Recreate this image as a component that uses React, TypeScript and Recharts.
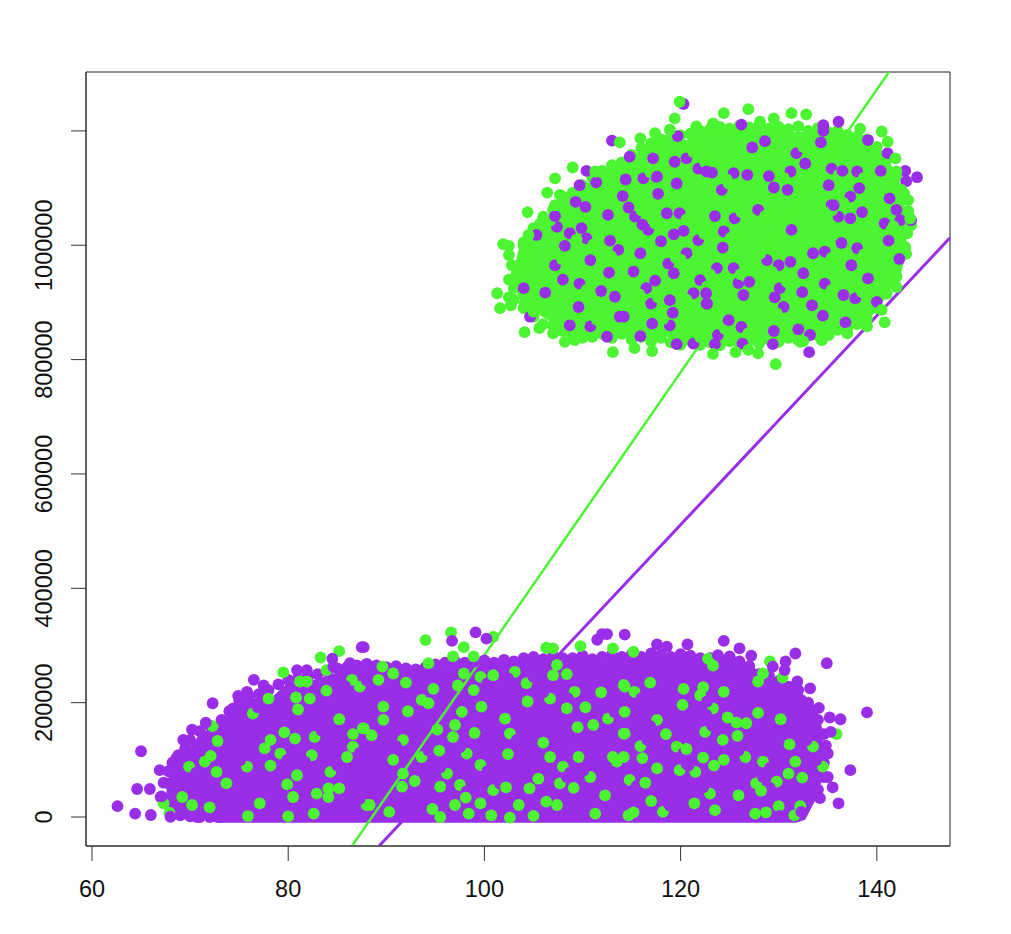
import { ComposedChart, Area, Scatter, XAxis, YAxis, ReferenceLine, ReferenceArea } from "recharts";

const GREEN = "#4CF531";
const PURPLE = "#9A2DE8";

const X_TICKS = [60, 80, 100, 120, 140];
const Y_TICKS = [0, 200000, 400000, 600000, 800000, 1000000, 1200000];
const X_DOMAIN = [59.39, 147.46];
const Y_DOMAIN = [-50700, 1303000];

// the packed part of each cloud is too dense to read dot by dot, so it is an outline: [x, low, high], y in thousands
const upperCloud = [
  [103, 930, 960], [103.6, 905, 997], [105.3, 881, 1032], [107, 864, 1061], [108, 849, 1085], [109.7, 840, 1096],
  [111.4, 846, 1120], [113.1, 846, 1137], [115.2, 840, 1155], [116.5, 837, 1172], [118.6, 840, 1184], [120.6, 829, 1184],
  [122.7, 829, 1201], [125.4, 832, 1204], [128.8, 832, 1201], [132.2, 840, 1198], [135.6, 849, 1198], [137.3, 855, 1192],
  [139, 867, 1184], [140.3, 893, 1172], [141.4, 922, 1143], [142.4, 945, 1108], [143, 992, 1055],
];
const lowerCloud = [
  [67.6, 20, 60], [68.6, 8, 95], [69.65, 4, 115], [71, 0, 145], [72.7, -10, 160], [74, -10, 180], [75.1, -10, 203],
  [78.5, -10, 212], [79.85, -10, 233], [82.6, -10, 240], [86, -10, 258], [88.3, -10, 262], [94.1, -10, 258], [97.5, -10, 268],
  [101.9, -10, 271], [105.3, -10, 277], [109, -10, 274], [113.8, -10, 278], [117.2, -10, 283], [121.6, -10, 277], [124, -10, 274],
  [127.4, -10, 262], [129.1, -10, 244], [131.8, -10, 222], [132.7, -5, 212], [133.9, 35, 190], [134.5, 70, 150],
];

// dots that make the bumpy rim of each cloud, [x, y in thousands]
const upperRim = [
  [104, 1005], [105, 1030], [106, 1050], [107, 1062], [108, 1085], [109, 1092], [110, 1105], [111, 1118], [112, 1130], [113, 1140],
  [114, 1145], [115, 1158], [116, 1170], [117, 1178], [118, 1185], [119, 1188], [120, 1192], [121, 1195], [122, 1200], [123, 1203],
  [124, 1207], [125, 1204], [126, 1209], [127, 1206], [128, 1210], [129, 1204], [130, 1207], [131, 1203], [132, 1208], [133, 1200],
  [134, 1205], [135, 1198], [136, 1200], [137, 1193], [138, 1190], [139, 1185], [140, 1172], [141, 1150], [142, 1120], [142.8, 1090],
  [143.2, 1060], [143.5, 1035], [103, 905], [104, 890], [105, 875], [106, 862], [107, 860], [108, 850], [109, 842], [110, 838],
  [111, 840], [112, 845], [113, 838], [114, 845], [115, 835], [116, 840], [117, 832], [118, 838], [119, 830], [120, 826], [121, 833],
  [122, 826], [123, 830], [124, 825], [125, 832], [126, 826], [127, 833], [128, 828], [129, 835], [130, 831], [131, 838], [132, 834],
  [133, 842], [134, 843], [135, 848], [136, 852], [137, 857], [138, 862], [139, 872], [140, 890], [141, 915], [142, 945], [143, 985],
  [102.5, 940], [102.8, 965], [103, 925],
];
const lowerRim = [
  [67, 35], [67.3, 60], [67.8, 80], [68.2, 95], [68.8, 108], [69.5, 120], [70, 135], [71, 150], [72, 160], [74, 185], [75, 205],
  [76, 212], [77, 215], [78, 222], [79, 232], [80, 240], [81, 242], [82, 245], [83, 250], [84, 255], [85, 260], [86, 262], [87, 265],
  [88, 268], [89, 265], [90, 262], [91, 264], [92, 260], [93, 258], [94, 262], [95, 267], [96, 270], [97, 272], [98, 270], [99, 272],
  [100, 274], [101, 270], [102, 275], [103, 272], [104, 278], [105, 280], [106, 276], [107, 282], [108, 278], [109, 278], [110, 282],
  [111, 276], [112, 280], [113, 284], [114, 280], [115, 284], [116, 280], [117, 286], [118, 284], [119, 280], [120, 285], [121, 282],
  [122, 278], [123, 278], [124, 276], [125, 274], [126, 272], [127, 264], [128, 250], [129, 248], [130, 238], [131, 228], [132, 222],
  [133, 200], [134, 170], [134.6, 145], [134.8, 125], [134.6, 95], [132, 10], [133, 28], [134, 48], [134.6, 70], [68, 8], [69, 3],
  [70, 1], [71, 0], [72, 0], [73, 0],
];

// visible single dots, [x, y in thousands]
const upperPurple = [
  [120.3, 1247], [113, 1183], [119.7, 1191], [110.4, 1130], [109.7, 1105], [111.4, 1110], [114.4, 1115], [119.6, 1108],
  [117.7, 1090], [114.1, 1086], [109.3, 1076], [110.3, 1067], [114.7, 1066], [112.6, 1053], [118.6, 1056], [107.2, 1051],
  [116.1, 1036], [109.9, 1030], [105.3, 1018], [119.3, 1019], [120.3, 1025], [118, 1007], [108.2, 999], [112.8, 1008],
  [115.9, 986], [110.8, 974], [112.7, 952], [119.3, 951], [108, 940], [115.2, 954], [117.4, 938], [104, 925], [106.2, 917],
  [111.9, 920], [113.3, 910], [109.6, 892], [118.9, 904], [119.2, 882], [117.1, 863], [108.7, 860], [113.8, 875], [115.9, 841],
  [119.6, 827], [112.5, 840], [104.65, 875], [117.2, 1152], [114.8, 1155], [119.4, 1146], [122.65, 1129], [122.6, 916],
  [122.65, 898], [117.6, 1120], [126.2, 1211], [136.1, 1216], [134.55, 1210], [134.55, 1200], [127.3, 1171], [128.6, 1182],
  [139.1, 1184], [141.1, 1161], [134.3, 1180], [132.7, 1143], [136.5, 1130], [140.4, 1130], [142.9, 1130], [144.1, 1119],
  [143, 1112], [126.8, 1123], [129, 1121], [123.2, 1127], [129.5, 1101], [130.9, 1097], [138.2, 1100], [135.1, 1105],
  [141.3, 1082], [142, 1062], [138.5, 1058], [137.3, 1047], [143.5, 1044], [135.6, 1070], [123.5, 1051], [131.3, 1027],
  [141.2, 1008], [136.4, 1004], [124.3, 996], [142.3, 976], [133.5, 986], [132.5, 951], [131.2, 971], [137.4, 965],
  [139.1, 942], [126.4, 913], [127, 936], [122.7, 898], [132.4, 918], [129.6, 909], [133.4, 895], [134.5, 877], [136.6, 913],
  [140, 901], [129.5, 850], [129.4, 827], [126.3, 828], [123.5, 827], [133.1, 813], [132, 853], [136.8, 865], [124.9, 869],
];
// purple scraps that show between the green dots, and the green dots lying over them
const upperScraps = [
  [116.2, 1117], [117.5, 1120], [116.7, 1027], [121.8, 1009], [120.6, 986], [118.75, 968], [122, 939], [121.3, 916], [117, 898],
  [114.2, 875], [110.8, 858], [107.4, 1032], [108.7, 1021], [110.4, 1012], [107.2, 965], [109.7, 933], [113.65, 992], [115.35, 1050],
  [119.9, 1056], [120.6, 1152], [121.8, 1134], [116.5, 925], [118.9, 860], [121.3, 828], [124.2, 1097], [125.4, 1126], [127.9, 1062],
  [125.5, 1047], [124.4, 1024], [131.2, 1129], [131.8, 1161], [135.4, 1134], [138, 1129], [137.3, 1085], [135.4, 1070], [136.1, 1050],
  [140.8, 1038], [142.4, 1044], [138, 995], [134.7, 989], [123.7, 960], [125.4, 960], [125.9, 934], [130.1, 925], [130.5, 892],
  [126.2, 857], [123.8, 843], [133.2, 843], [134.7, 933], [137.8, 907], [130, 965], [128.8, 974],
];
const upperCover = [
  [116.9, 1128], [118.2, 1108], [117.4, 1038], [122.4, 1020], [120, 975], [119.5, 978], [122.7, 928], [120.6, 905], [117.7, 909],
  [113.5, 864], [111.5, 869], [106.7, 1043], [109.4, 1010], [111.1, 1001], [107.9, 976], [110.4, 922], [112.9, 981], [116, 1061],
  [120.6, 1045], [121.3, 1163], [122.5, 1145], [115.8, 914], [118.2, 871], [122, 839], [124.9, 1108], [124.7, 1115], [128.6, 1051],
  [126.2, 1058], [125.1, 1013], [130.5, 1118], [132.5, 1172], [136.1, 1123], [138.7, 1118], [136.6, 1074], [136.1, 1081], [135.4, 1061],
  [141.5, 1027], [141.7, 1033], [138.7, 984], [135.4, 978], [123, 949], [126.1, 949], [126.6, 945], [130.8, 936], [129.8, 881],
  [126.9, 846], [124.5, 854], [132.5, 832], [135.4, 922], [138.5, 918], [129.3, 954], [128.1, 985],
];
const upperGreen = [
  [119.9, 1251], [119.4, 1222], [118.9, 1202], [117.4, 1196], [115.9, 1187], [113.8, 1180], [109, 1136], [107.2, 1117],
  [106.4, 1092], [104.4, 1058], [101.9, 1002], [102.5, 999], [102.5, 983], [104, 986], [101.3, 916], [102.5, 909], [101.6, 890],
  [102.7, 895], [104.1, 848], [105.6, 855], [107, 846], [108.2, 831], [109.2, 834], [113.1, 813], [115.3, 820], [117.1, 815],
  [121.6, 1208], [107.7, 1088], [107.2, 1070], [105.7, 1038], [104.5, 1018], [104, 1000], [103.3, 951], [104.1, 965],
  [104.1, 898], [105, 884], [111.3, 1129], [126.9, 1238], [124.4, 1231], [129.5, 1222], [131.3, 1231], [132.8, 1229],
  [128.1, 1216], [123.3, 1213], [138.3, 1204], [140.5, 1199], [141.1, 1181], [141.9, 1152], [142, 1129], [143.2, 1079],
  [142.5, 1097], [143.4, 1047], [143.1, 1021], [142.9, 997], [142, 945], [142, 927], [140.8, 865], [129.7, 792], [123.3, 810],
  [125.6, 813], [126.9, 817], [127.9, 811], [132.2, 831], [134.4, 834], [135.1, 843], [137, 846], [139, 858], [140.5, 887],
];
const lowerGreen = [
  [79.5, 253], [83.3, 279], [85.2, 290], [83.9, 257], [78, 207], [80.8, 209], [83.9, 221], [81, 188], [85.2, 171], [72.3, 159],
  [72.8, 133], [79.6, 148], [80.7, 137], [77.6, 120], [78.2, 90], [72.1, 107], [71.5, 97], [80.9, 73], [79.9, 57], [80.5, 35],
  [84.1, 50], [85.2, 50], [84.1, 35], [77.1, 24], [72, 17], [70.2, 21], [69.2, 35], [67.9, 7.5], [67.3, 24], [75.9, 1.7],
  [87.6, 155], [86.6, 145], [86, 105], [73.7, 59], [82.9, 41], [82.6, 6], [80, 1], [72.7, 79], [88.3, 21], [78.2, 135],
  [82.2, 207], [81.9, 237], [81.2, 237], [94, 309.5], [96.6, 323], [97.9, 297], [100.9, 315], [106.3, 296], [107, 295],
  [109.8, 299], [113.1, 295], [98.9, 281], [96.8, 281], [94.3, 269], [89.6, 263], [89.2, 240], [92, 235], [90.7, 251],
  [94.8, 224], [94.3, 199], [93.6, 205], [92.2, 185], [89.7, 193], [89.7, 170], [87.7, 155], [88.5, 143], [97.3, 230],
  [98.9, 222], [97.9, 251], [100.9, 248], [107.4, 266], [107, 248], [108.4, 250], [104.4, 202], [99.7, 193], [97.7, 184],
  [102.1, 172], [111.9, 218], [110.3, 192], [108.4, 190], [109.5, 157], [111.1, 161], [97, 161], [96.8, 140], [99, 147],
  [95.2, 153], [95.4, 116], [102.4, 110], [106, 130], [106.7, 105], [109.6, 105], [113.1, 105], [113.5, 97], [105.5, 67],
  [104.6, 50], [102.2, 52], [109.1, 51], [112.3, 38], [91.7, 76], [92.9, 63], [91.6, 53], [95.5, 53], [98.1, 34], [99.6, 24],
  [97, 21], [98.4, 6], [100.7, 3], [102.6, -1], [105, 2], [106.3, 27], [107.4, 21], [103.5, 21], [94.7, 14], [95.5, 0],
  [90.3, 9], [111.3, 6], [90.7, 100], [114.7, 3], [114.3, 228], [114.2, 146], [115.2, 289], [122.8, 277], [123.3, 265],
  [129.1, 272], [128.4, 251], [127.9, 237], [130.4, 244], [120.3, 224], [122.3, 227], [116.9, 235], [124.4, 219], [120.2, 196],
  [114.3, 184], [114.2, 231], [127.9, 182], [130.2, 171], [124.8, 174], [125.7, 165], [126.7, 164], [118.5, 145], [125.8, 142],
  [124.3, 135], [131.1, 127], [135.9, 145], [114.2, 105], [116.1, 103], [117.6, 85], [124.4, 100], [123.4, 90], [131, 76],
  [131.7, 97], [132.4, 69], [116.4, 60], [128.2, 46], [125.9, 38], [117, 28], [115.2, 8], [127.6, 6], [128.7, 8], [130, 19],
  [131.6, 3], [132.2, 19], [121.4, 24], [123.5, 12], [122.3, 104], [120.6, 119], [114.3, 146],
];
// green scraps in the lower cloud, and the purple dots lying over them
const lowerScraps = [
  [76.4, 181], [79.2, 111], [82.4, 108], [84.3, 79], [86.6, 123], [75.8, 88], [69.9, 88], [82.7, 140], [86.5, 240], [87.3, 228],
  [91.7, 135], [93.6, 105], [96.2, 76], [97.5, 56], [99.6, 91], [98.2, 111], [102.6, 146], [109.2, 219], [112.6, 172], [107.7, 59],
  [103.1, 254], [104.3, 234], [106.7, 207], [99.6, 245], [108, 88], [110.8, 70], [100.9, 47], [88, 21], [115.3, 219], [117.6, 170],
  [115.9, 124], [119.6, 123], [122, 213], [123.3, 190], [122.5, 149], [126.6, 105], [128.4, 97], [121.5, 79], [119.9, 82], [123, 41],
  [118.2, 9], [114.8, 65], [127.7, 59], [129.8, 62], [133.5, 123], [134.5, 88],
];
const lowerCover = [
  [76.9, 192], [79.9, 100], [81.7, 97], [85, 90], [87.3, 112], [75.1, 99], [70.6, 77], [83.4, 151], [85.8, 229], [88, 239],
  [91, 124], [94.3, 116], [95.5, 87], [98.2, 45], [100.3, 80], [97.5, 122], [103.3, 135], [108.5, 208], [113.3, 183], [108.4, 70],
  [102.4, 243], [105, 245], [106, 218], [100.3, 234], [108.7, 77], [110.1, 81], [101.6, 58], [87.3, 32], [116, 208], [116.9, 159],
  [116.6, 135], [120.3, 112], [122.7, 202], [122.6, 179], [123.2, 160], [125.9, 116], [129.1, 86], [120.8, 90], [120.6, 93], [122.3, 52],
  [118.9, 20], [115.5, 54], [128.4, 70], [129.1, 51], [132.8, 134], [133.8, 99],
];
const lowerPurple = [
  [62.6, 19], [64.4, 6], [66, 3.5], [64.6, 49], [65.9, 49], [65, 115], [66.9, 82], [72.3, 199], [87.5, 297], [84.5, 277],
  [76.5, 240], [77.5, 230], [74.9, 212], [75.8, 219], [70.2, 153], [69.3, 135], [71.6, 165], [73.2, 170], [68.6, 103],
  [67.8, 59], [67.1, 36], [68, 0.5], [70.7, 0], [80.9, 257], [81.9, 257], [86.3, 269], [84.6, 263], [74.4, 190], [87.7, 297],
  [99.1, 323], [96.7, 308], [100.2, 312], [112, 320], [111.5, 310], [112.5, 320], [114.3, 319], [117.6, 302], [118.6, 298],
  [120.7, 302], [124.4, 308], [126, 295], [123.8, 283], [125, 281], [127.2, 282], [131.7, 286], [130.7, 272], [129.4, 263],
  [130.6, 257], [134.9, 269], [139, 183], [131.9, 237], [133.2, 225], [134.1, 191], [135.2, 174], [136.3, 171], [135.3, 149],
  [137.3, 82], [135, 70], [135.5, 52], [136.1, 24], [134.2, 33], [135, 111], [132.3, 9], [130.1, 2],
];

const toDots = (rows: number[][]) => rows.map(([x, y]) => ({ x, y: y * 1000 }));
const toBand = (rows: number[][]) => rows.map(([x, lo, hi]) => ({ x, band: [lo * 1000, hi * 1000] }));

const dot = (fill: string) => (p: any) => <circle cx={p.cx} cy={p.cy} r={5.9} fill={fill} />;

function YTick({ x, y, payload }: any) {
  // R drops the 1200000 label because it does not fit
  if (payload.value === 1200000) return null;
  return (
    <text x={x} y={y} transform={`rotate(-90 ${x} ${y})`} textAnchor="middle" fontSize={23.5} fill="#111" fontFamily="Liberation Sans">
      {payload.value}
    </text>
  );
}

export default function App() {
  return (
    <div style={{ position: "absolute", left: 0, top: 0, background: "#fff" }}>
      <ComposedChart width={1011} height={934} margin={{ top: 72, right: 61, bottom: 28, left: 26 }}>
        <XAxis
          dataKey="x"
          type="number"
          domain={X_DOMAIN}
          ticks={X_TICKS}
          interval={0}
          allowDataOverflow
          height={60}
          tickSize={15}
          tickMargin={19}
          stroke="#333"
          tick={{ fontSize: 23.5, fill: "#111", fontFamily: "Liberation Sans" }}
        />
        <YAxis
          type="number"
          domain={Y_DOMAIN}
          ticks={Y_TICKS}
          interval={0}
          allowDataOverflow
          width={60}
          tickSize={15}
          tickMargin={19}
          stroke="#333"
          tick={<YTick />}
        />
        <ReferenceArea x1={X_DOMAIN[0]} x2={X_DOMAIN[1]} y1={Y_DOMAIN[0]} y2={Y_DOMAIN[1]} fill="none" stroke="#222" />
        <Area data={toBand(upperCloud)} dataKey="band" fill={GREEN} fillOpacity={1} stroke="none" type="linear" isAnimationActive={false} />
        <Scatter data={toDots(upperRim)} dataKey="y" shape={dot(GREEN)} isAnimationActive={false} />
        <Scatter data={toDots(upperScraps)} dataKey="y" shape={dot(PURPLE)} isAnimationActive={false} />
        <Scatter data={toDots(upperCover)} dataKey="y" shape={dot(GREEN)} isAnimationActive={false} />
        <Scatter data={toDots(upperPurple)} dataKey="y" shape={dot(PURPLE)} isAnimationActive={false} />
        <Scatter data={toDots(upperGreen)} dataKey="y" shape={dot(GREEN)} isAnimationActive={false} />
        <Area data={toBand(lowerCloud)} dataKey="band" fill={PURPLE} fillOpacity={1} stroke="none" type="linear" isAnimationActive={false} />
        <Scatter data={toDots(lowerRim)} dataKey="y" shape={dot(PURPLE)} isAnimationActive={false} />
        <Scatter data={toDots(lowerScraps)} dataKey="y" shape={dot(GREEN)} isAnimationActive={false} />
        <Scatter data={toDots(lowerCover)} dataKey="y" shape={dot(PURPLE)} isAnimationActive={false} />
        <Scatter data={toDots(lowerGreen)} dataKey="y" shape={dot(GREEN)} isAnimationActive={false} />
        <Scatter data={toDots(lowerPurple)} dataKey="y" shape={dot(PURPLE)} isAnimationActive={false} />
        <ReferenceLine segment={[{ x: 86.5, y: -50700 }, { x: 141.24, y: 1303000 }]} stroke={GREEN} strokeWidth={2.5} ifOverflow="hidden" />
        <ReferenceLine segment={[{ x: 89.26, y: -50700 }, { x: 147.46, y: 1013000 }]} stroke={PURPLE} strokeWidth={3} ifOverflow="hidden" />
      </ComposedChart>
    </div>
  );
}
